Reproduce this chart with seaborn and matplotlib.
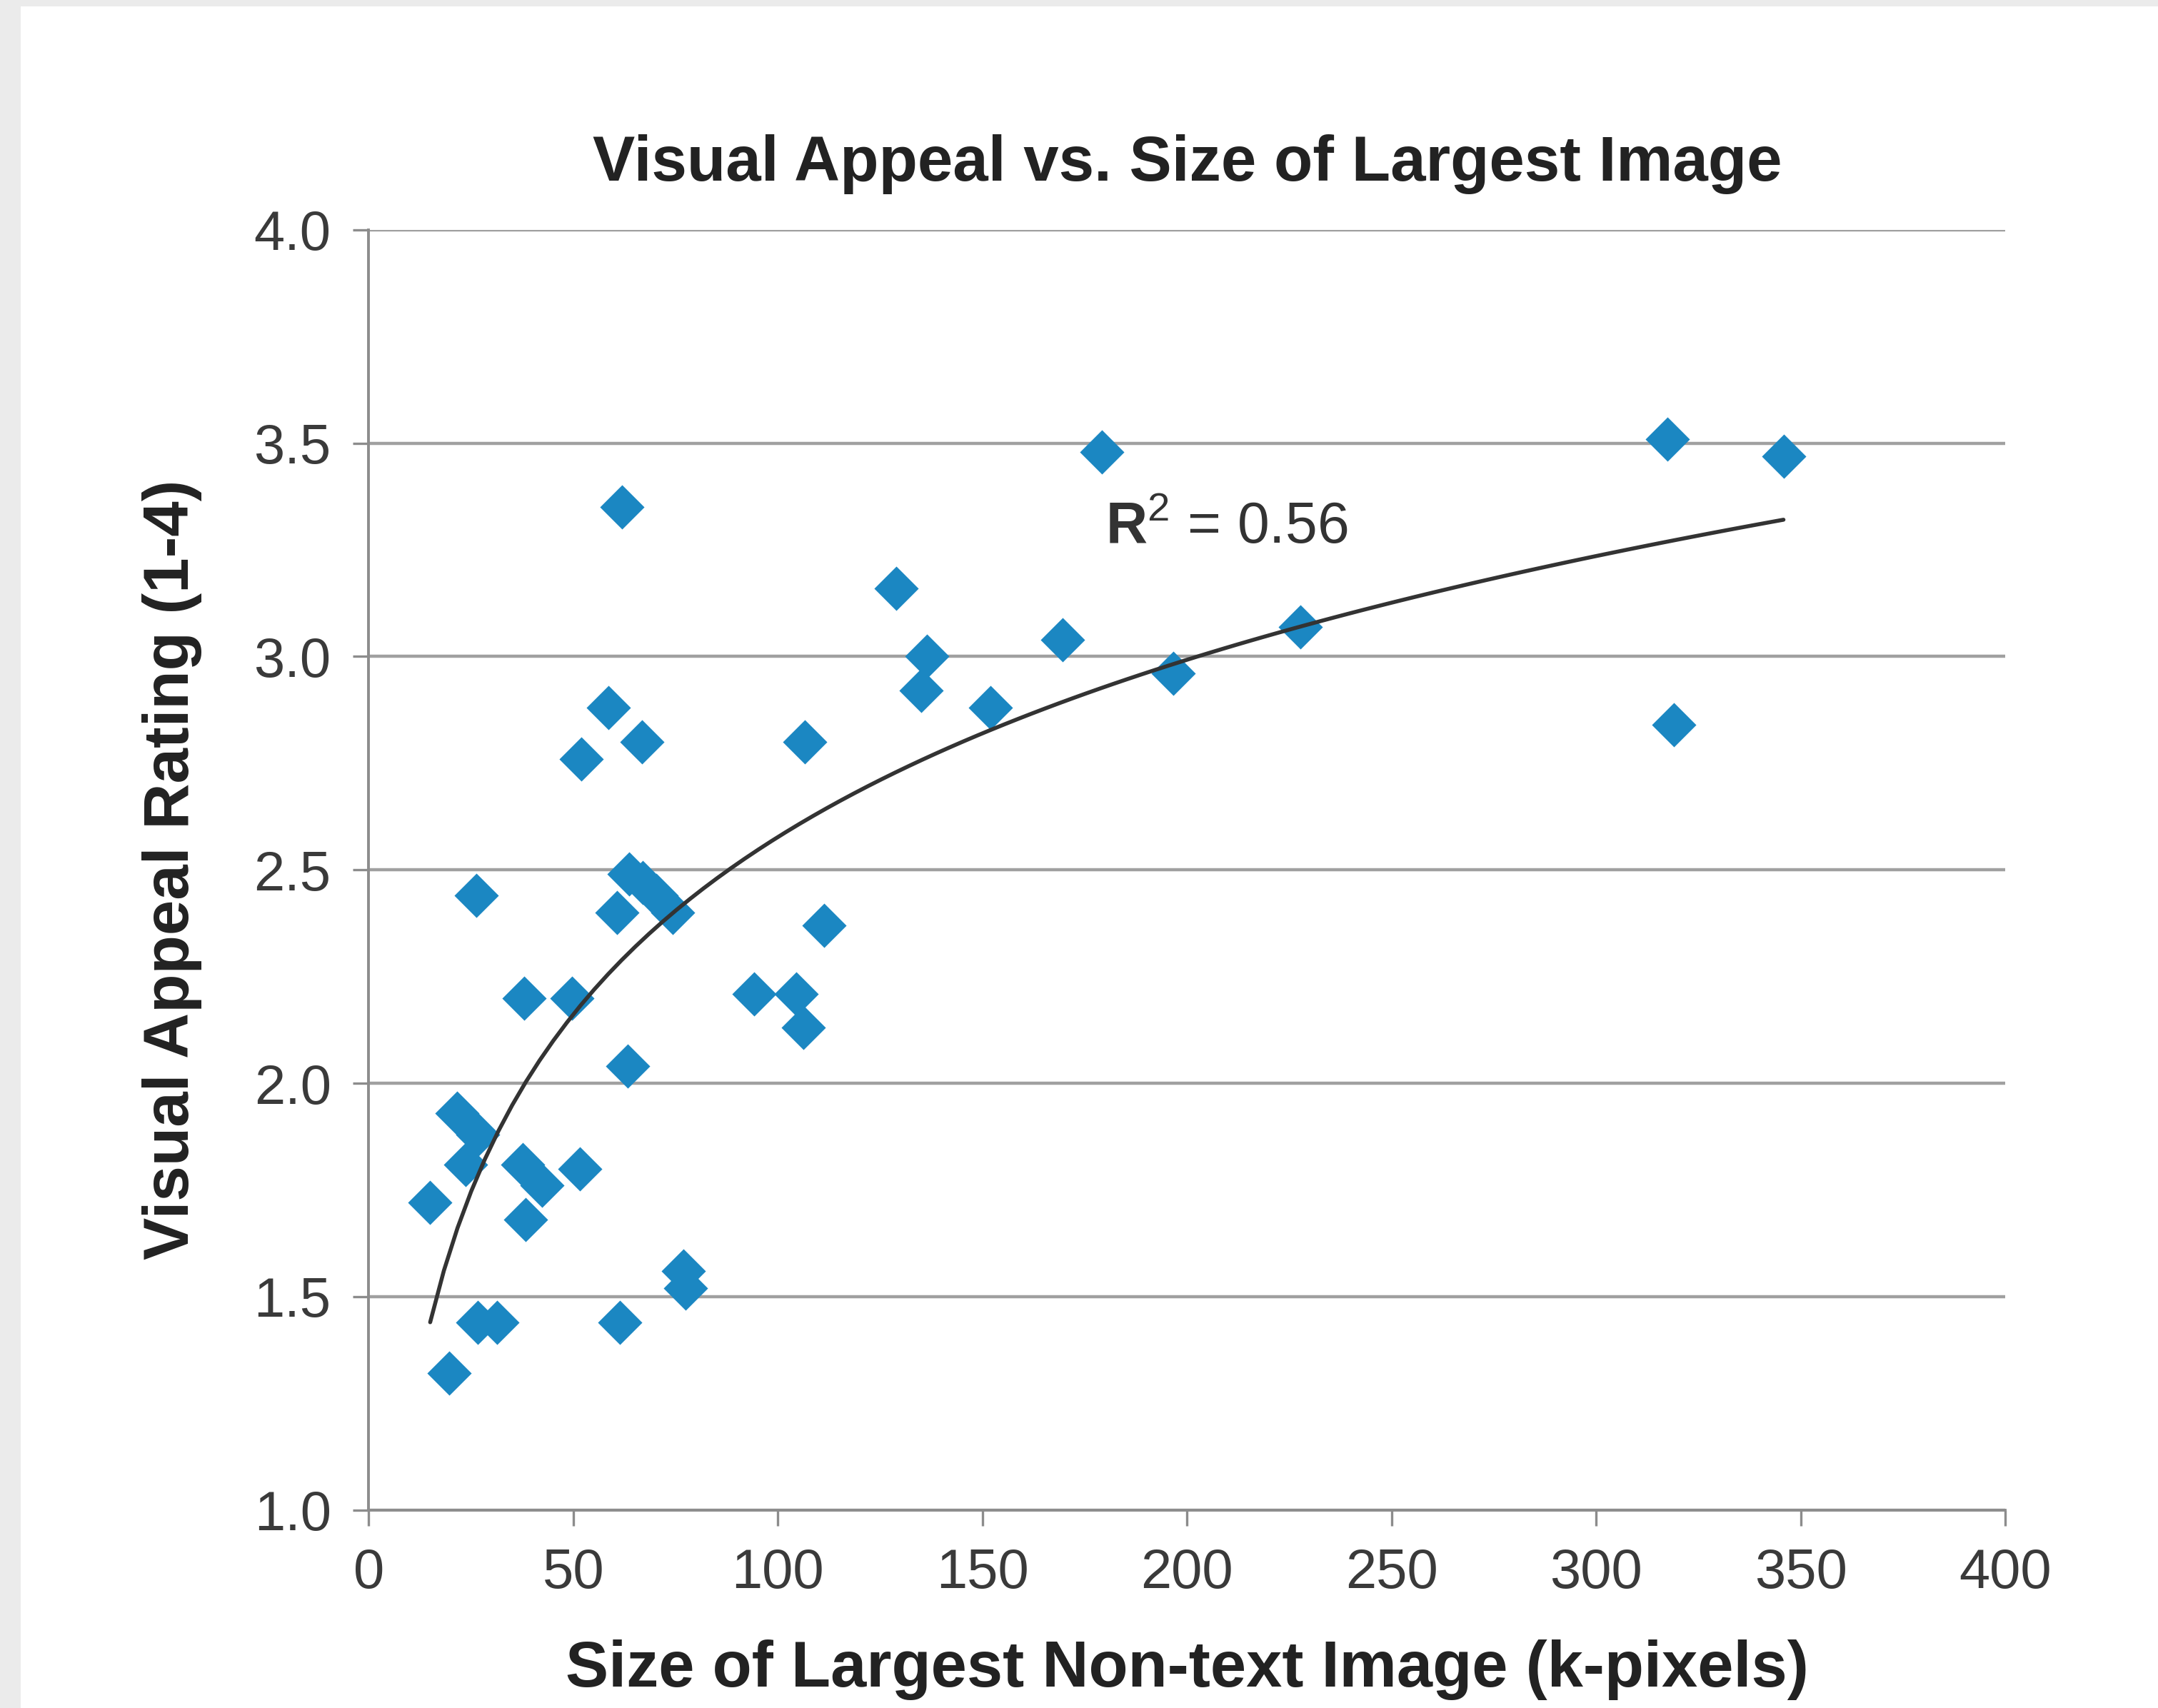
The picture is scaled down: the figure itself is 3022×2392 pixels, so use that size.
import matplotlib
matplotlib.use("Agg")
import matplotlib.pyplot as plt
import seaborn as sns
from matplotlib.patches import Rectangle

# values
image_size = [15.0, 19.6, 21.6, 23.6, 26.6, 26.3, 26.6, 31.3, 37.9, 37.6, 42.3, 38.4,
              49.7, 51.6, 52.0, 58.6, 60.6, 61.4, 61.8, 63.3, 63.7, 66.8, 67.0, 70.3,
              74.2, 76.9, 77.5, 94.2, 104.5, 106.2, 106.6, 111.3, 129.0, 135.0, 136.5,
              152.0, 169.6, 179.1, 196.7, 227.7, 317.4, 319.0, 345.8]
appeal = [1.72, 1.32, 1.93, 1.81, 1.88, 2.44, 1.44, 1.44, 2.20, 1.81, 1.76, 1.68,
          2.20, 1.80, 2.76, 2.88, 2.40, 1.44, 3.35, 2.04, 2.49, 2.80, 2.47, 2.44,
          2.40, 1.56, 1.52, 2.21, 2.21, 2.13, 2.80, 2.37, 3.16, 2.92, 3.00,
          2.88, 3.04, 3.48, 2.96, 3.07, 3.51, 2.84, 3.47]
x_ticks = [0, 50, 100, 150, 200, 250, 300, 350, 400]
y_ticks = [1.0, 1.5, 2.0, 2.5, 3.0, 3.5, 4.0]
r2_label = r"$\mathbf{R}^{2}$ = 0.56"

sns.set_style("white")
plt.rcParams["font.family"] = ["Liberation Sans", "DejaVu Sans"]
plt.rcParams["mathtext.fontset"] = "custom"
plt.rcParams["mathtext.rm"] = "Liberation Sans"
plt.rcParams["mathtext.bf"] = "Liberation Sans:bold"

fig = plt.figure(figsize=(15.11, 11.96), dpi=200, facecolor="#ebebeb")
fig.patches.append(Rectangle((0.0096, 0), 0.9904, 0.9962, transform=fig.transFigure,
                             facecolor="white", edgecolor="none", zorder=-10))
ax = fig.add_axes([0.1709, 0.116, 0.7583, 0.7494])
ax.set_facecolor("white")

sns.regplot(x=image_size, y=appeal, logx=True, ci=None, ax=ax, marker="D",
            scatter_kws=dict(s=250, color="#1b87c2", linewidths=0, zorder=3, alpha=1),
            line_kws=dict(color="#333333", lw=2.0, zorder=4))

ax.set_xlim(0, 400)
ax.set_ylim(1, 4)
ax.set_xticks(x_ticks)
ax.set_yticks(y_ticks)
ax.set_yticklabels([f"{v:.1f}" for v in y_ticks])
ax.yaxis.grid(True, color="#a0a0a0", lw=1.6)
ax.xaxis.grid(False)
ax.set_axisbelow(True)
for s in ["top", "right"]:
    ax.spines[s].set_visible(False)
for s in ["left", "bottom"]:
    ax.spines[s].set_color("#8c8c8c")
    ax.spines[s].set_linewidth(1.4)
ax.tick_params(axis="both", direction="out", length=8, width=1.2, color="#8c8c8c",
               labelsize=28, labelcolor="#3a3a3a", pad=11, left=True, bottom=True)

ax.set_title("Visual Appeal vs. Size of Largest Image", fontsize=32, fontweight="bold",
             color="#222222", pad=25)
ax.set_xlabel("Size of Largest Non-text Image (k-pixels)", fontsize=32.5,
              fontweight="bold", color="#222222", labelpad=20)
ax.set_ylabel("Visual Appeal Rating (1-4)", fontsize=32, fontweight="bold",
              color="#222222", labelpad=26)
ax.text(180, 3.30, r2_label, fontsize=29, color="#333333", va="center", ha="left")

fig.savefig("out.png", dpi=200, facecolor=fig.get_facecolor())
